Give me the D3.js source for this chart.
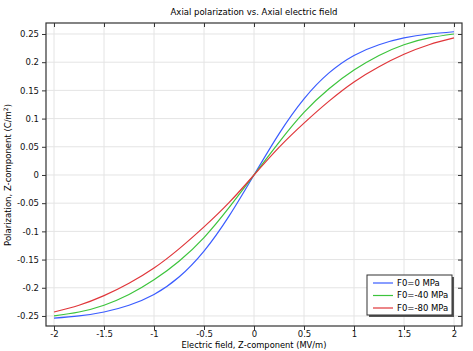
<!DOCTYPE html>
<html lang="en">
<head>
<meta charset="UTF-8">
<script src="https://d3js.org/d3.v7.min.js"></script>
<style>
  body { margin: 0; background: #fff; }
  svg { font-family: "DejaVu Sans", sans-serif; }
  .grid line { stroke: #e4e4e4; stroke-width: 1; }
</style>
</head>
<body>
<div id="container"></div>
<script>
// electric field values (MV/m)
var efield = [-2, -1.75, -1.5, -1.25, -1, -0.75, -0.5, -0.25, 0, 0.25, 0.5, 0.75, 1, 1.25, 1.5, 1.75, 2];
// polarization (C/m^2)
var pol_0   = [-0.254, -0.250, -0.243, -0.231, -0.212, -0.181, -0.135, -0.073, 0, 0.073, 0.135, 0.181, 0.212, 0.231, 0.243, 0.250, 0.254];
var pol_40  = [-0.250, -0.243, -0.231, -0.212, -0.186, -0.153, -0.111, -0.058, 0, 0.058, 0.111, 0.153, 0.186, 0.212, 0.231, 0.243, 0.250];
var pol_80  = [-0.243, -0.231, -0.214, -0.192, -0.165, -0.131, -0.092, -0.049, 0, 0.049, 0.092, 0.131, 0.165, 0.192, 0.214, 0.231, 0.243];
var series_names = ["F0=0 MPa", "F0=-40 MPa", "F0=-80 MPa"];
var series_colors = ["#3a5cff", "#3cc43c", "#e0363a"];
var x_ticks = [-2, -1.5, -1, -0.5, 0, 0.5, 1, 1.5, 2];
var y_ticks = [-0.25, -0.2, -0.15, -0.1, -0.05, 0, 0.05, 0.1, 0.15, 0.2, 0.25];

var width = 473, height = 351,
    margin = {top: 23, left: 46, right: 11, bottom: 25},
    chart_width = width - margin.left - margin.right,
    chart_height = height - margin.top - margin.bottom;

var series = [pol_0, pol_40, pol_80].map(function(vals, i) {
    return {name: series_names[i], color: series_colors[i],
            points: vals.map(function(v, j) { return {x: efield[j], y: v}; })};
});

var x_scale = d3.scaleLinear().domain([-2.08, 2.08]).range([0, chart_width]);
var y_scale = d3.scaleLinear().domain([-0.2678, 0.2695]).range([chart_height, 0]);

var svg = d3.select("#container").append("svg")
    .attr("width", width).attr("height", height);

svg.append("text")
    .attr("x", margin.left + x_scale(0)).attr("y", 15)
    .attr("text-anchor", "middle")
    .style("font-size", "8.5px")
    .text("Axial polarization vs. Axial electric field");

var chart = svg.append("g")
    .attr("transform", `translate(${margin.left},${margin.top})`);

// grid
var grid = chart.append("g").attr("class", "grid");
grid.selectAll(".gx").data(x_ticks).enter().append("line")
    .attr("x1", d => x_scale(d)).attr("x2", d => x_scale(d))
    .attr("y1", 0).attr("y2", chart_height);
grid.selectAll(".gy").data(y_ticks).enter().append("line")
    .attr("y1", d => y_scale(d)).attr("y2", d => y_scale(d))
    .attr("x1", 0).attr("x2", chart_width);

// axes
var fmt = d => d3.format("")(d).replace("−", "-");
var x_axis = chart.append("g").attr("transform", `translate(0,${chart_height})`)
    .call(d3.axisBottom(x_scale).tickValues(x_ticks).tickSize(4).tickPadding(1).tickSizeOuter(0).tickFormat(fmt));
var y_axis = chart.append("g")
    .call(d3.axisLeft(y_scale).tickValues(y_ticks).tickSize(4).tickSizeOuter(0).tickFormat(fmt));
var x_top = chart.append("g")
    .call(d3.axisBottom(x_scale).tickValues(x_ticks).tickSize(4).tickSizeOuter(0).tickFormat(""));
var y_right = chart.append("g").attr("transform", `translate(${chart_width},0)`)
    .call(d3.axisLeft(y_scale).tickValues(y_ticks).tickSize(4).tickSizeOuter(0).tickFormat(""));
[x_axis, y_axis, x_top, y_right].forEach(function(a) {
    a.select(".domain").remove();
    a.selectAll(".tick line").attr("stroke", "#333");
    a.selectAll("text").style("font-size", "8.5px").style("font-family", "DejaVu Sans").attr("fill", "#111");
});

chart.append("rect")
    .attr("width", chart_width).attr("height", chart_height)
    .attr("fill", "none").attr("stroke", "#333").attr("stroke-width", 1.2);

// lines
var line = d3.line().x(d => x_scale(d.x)).y(d => y_scale(d.y)).curve(d3.curveNatural);
chart.selectAll(".series").data(series).enter().append("path")
    .attr("d", d => line(d.points))
    .attr("fill", "none").attr("stroke", d => d.color).attr("stroke-width", 1.2);

// axis labels
svg.append("text")
    .attr("x", margin.left + x_scale(0)).attr("y", 347.5)
    .attr("text-anchor", "middle").style("font-size", "8.3px")
    .text("Electric field, Z-component (MV/m)");
var ylab = svg.append("text")
    .attr("transform", `translate(11,${margin.top + y_scale(0)}) rotate(-90)`)
    .attr("text-anchor", "middle").style("font-size", "8.5px");
ylab.append("tspan").text("Polarization, Z-component (C/m");
ylab.append("tspan").attr("dy", -3).style("font-size", "6px").text("2");
ylab.append("tspan").attr("dy", 3).text(")");

// legend
var legend = svg.append("g").attr("transform", "translate(367,275)");
legend.append("rect").attr("x", 2).attr("y", 2).attr("width", 85).attr("height", 40).attr("fill", "#555");
legend.append("rect").attr("width", 85).attr("height", 40)
    .attr("fill", "#fff").attr("stroke", "#333").attr("stroke-width", 1);
var items = legend.selectAll(".item").data(series).enter().append("g")
    .attr("transform", (d, i) => `translate(0,${8 + i * 12.5})`);
items.append("line").attr("x1", 6).attr("x2", 26).attr("stroke", d => d.color).attr("stroke-width", 1.2);
items.append("text").attr("x", 30).attr("dy", "0.35em").style("font-size", "8.5px").text(d => d.name);
</script>
</body>
</html>
